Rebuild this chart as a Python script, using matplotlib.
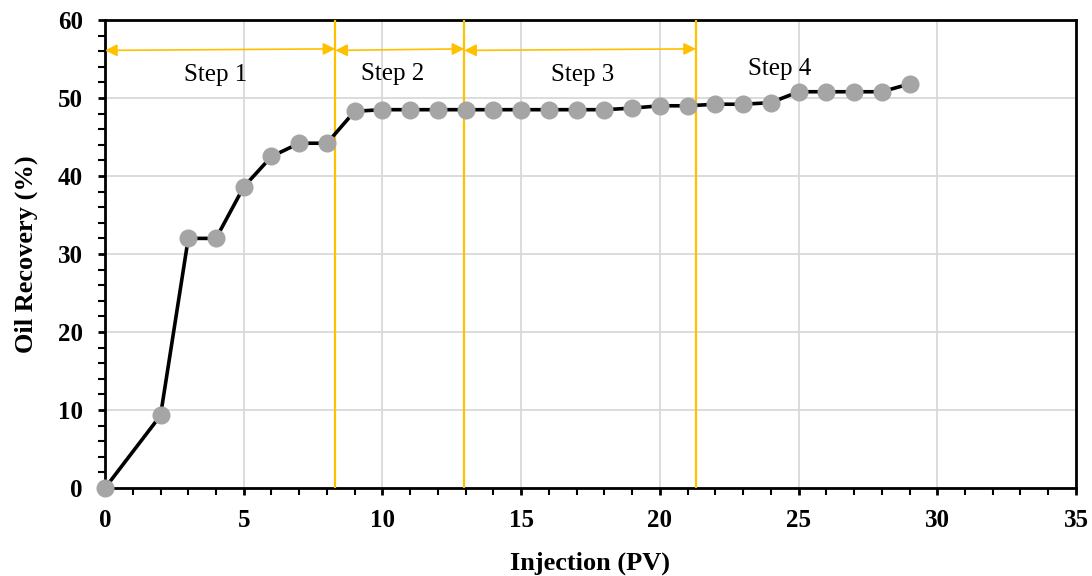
import matplotlib.pyplot as plt
from matplotlib.ticker import MultipleLocator

# Oil recovery vs pore volumes injected
injection_pv = [0, 2, 3, 4, 5, 6, 7, 8, 9, 10, 11, 12, 13, 14, 15, 16, 17, 18,
                19, 20, 21, 22, 23, 24, 25, 26, 27, 28, 29]
oil_recovery = [0, 9.3, 32.0, 32.0, 38.6, 42.5, 44.2, 44.2, 48.3, 48.5, 48.5,
                48.5, 48.5, 48.5, 48.5, 48.5, 48.5, 48.5, 48.7, 49.0, 49.0,
                49.2, 49.2, 49.4, 50.8, 50.8, 50.8, 50.8, 51.8]

# step boundaries (PV) and labels
step_bounds = [0, 8.3, 12.95, 21.3]
step_labels = ["Step 1", "Step 2", "Step 3", "Step 4"]
step_label_x = [4.0, 10.35, 17.2, 24.3]
step_label_y = [53.0, 53.1, 53.0, 53.7]

plt.rcParams['font.family'] = ['Liberation Serif', 'DejaVu Serif']

fig = plt.figure(figsize=(10.92, 5.76), dpi=100)
ax = fig.add_axes([0.0962, 0.1528, 0.8891, 0.8125])

yellow = '#FFC000'

ax.plot(injection_pv, oil_recovery, color='black', linewidth=2.6,
        marker='o', markersize=12, markerfacecolor='#A5A5A5',
        markeredgecolor='#A5A5A5', zorder=4, clip_on=False)

for b in step_bounds[1:]:
    ax.axvline(b, color=yellow, linewidth=1.6, zorder=3)

# arrows spanning each step (last step has none)
for i in range(len(step_bounds) - 1):
    ax.annotate('', xy=(step_bounds[i + 1], 56.3), xytext=(step_bounds[i], 56.1),
                arrowprops=dict(arrowstyle='<|-|>', color=yellow, lw=1.2,
                                mutation_scale=18, shrinkA=0, shrinkB=0),
                zorder=3)

for lab, lx, ly in zip(step_labels, step_label_x, step_label_y):
    ax.text(lx, ly, lab, ha='center', va='center', fontsize=18)

ax.set_xlim(0, 35)
ax.set_ylim(0, 60)
ax.xaxis.set_major_locator(MultipleLocator(5))
ax.xaxis.set_minor_locator(MultipleLocator(1))
ax.yaxis.set_major_locator(MultipleLocator(10))
ax.yaxis.set_minor_locator(MultipleLocator(2))
ax.grid(True, which='major', color='#D9D9D9', linewidth=1.3, zorder=0)
ax.set_axisbelow(True)

ax.tick_params(which='major', direction='out', length=5, width=2, labelsize=18)
ax.tick_params(axis='x', which='major', pad=10)
ax.tick_params(axis='y', which='major', pad=11)
ax.tick_params(which='minor', direction='out', length=5, width=1.5)
for lbl in ax.get_xticklabels() + ax.get_yticklabels():
    lbl.set_fontweight('bold')
for sp in ax.spines.values():
    sp.set_linewidth(2)

ax.set_xlabel("Injection (PV)", fontsize=19, fontweight='bold', labelpad=14)
ax.set_ylabel("Oil Recovery (%)", fontsize=19, fontweight='bold', labelpad=14)

fig.savefig("out.png", dpi=100)
